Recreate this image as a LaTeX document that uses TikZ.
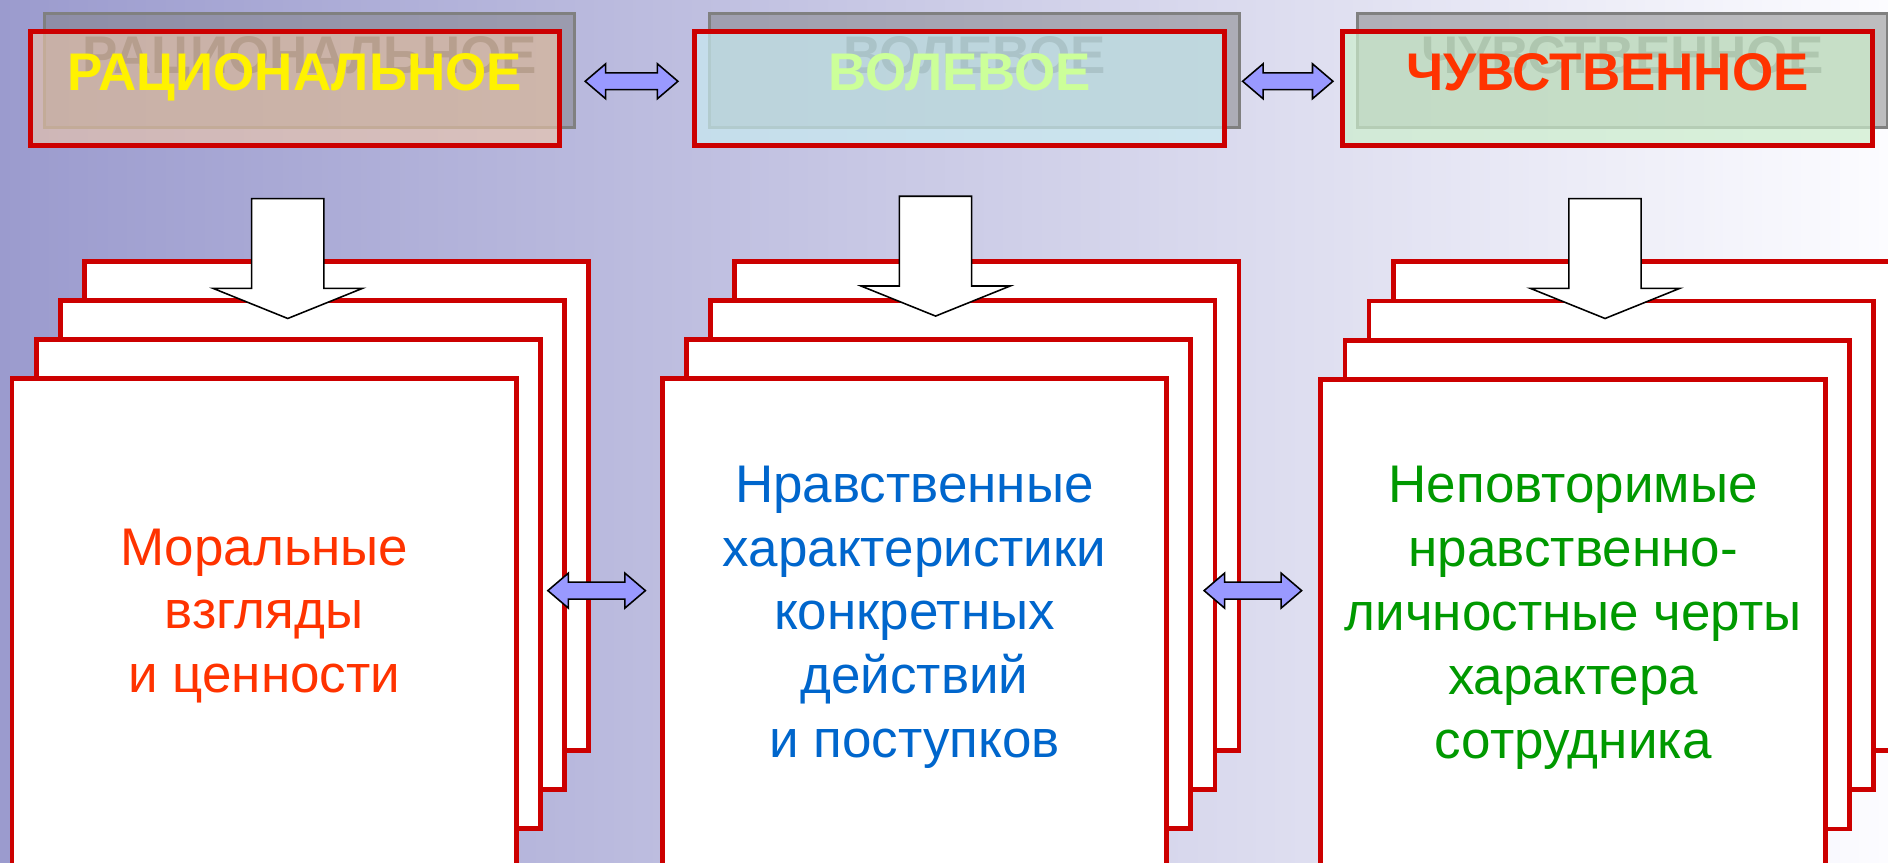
\documentclass[tikz,border=0pt]{standalone}
\usepackage{fontspec}
\setmainfont{Liberation Sans}
\usetikzlibrary{calc}

\definecolor{bgL}{RGB}{155,155,206}
\definecolor{bgR}{RGB}{252,252,255}
\definecolor{frameRed}{RGB}{204,0,0}
\definecolor{shadowGray}{RGB}{128,128,128}
\definecolor{fillPeach}{RGB}{240,200,168}
\definecolor{fillBlue}{RGB}{200,235,240}
\definecolor{fillGreen}{RGB}{204,238,204}
\definecolor{txtOrange}{RGB}{255,51,0}
\definecolor{txtLime}{RGB}{204,255,153}
\definecolor{txtBlue}{RGB}{0,102,204}
\definecolor{txtGreen}{RGB}{0,153,0}
\definecolor{arrowFill}{RGB}{153,153,255}

\tikzset{
  headbox/.style={rectangle, draw=frameRed, line width=4pt, minimum width=440pt,
    minimum height=95pt, inner sep=0pt, anchor=north west},
  headshadow/.style={rectangle, draw=shadowGray, line width=2.5pt, fill=shadowGray,
    fill opacity=0.5, minimum width=440pt, minimum height=95pt, inner sep=0pt,
    anchor=north west},
  headtext/.style={font=\fontsize{44}{53}\selectfont\bfseries, anchor=base, inner sep=0pt},
  shadowtext/.style={headtext, text=black!70, text opacity=0.7},
  card/.style={rectangle, draw=frameRed, fill=white, line width=4pt, minimum width=419pt,
    minimum height=406pt, inner sep=0pt, anchor=north west},
  cardtext/.style={font=\fontsize{44}{53}\selectfont, align=center, inner sep=0pt},
  dblarrow/.style={draw=black, fill=arrowFill, line width=1.3pt, line join=miter},
  downarrow/.style={draw=black, fill=white, line width=1.3pt, line join=miter},
}

% two-headed block arrow between a left tip and a right tip
\newcommand{\twowayarrow}[2]{%
  \draw[dblarrow] (#1) -- ($(#1)+(17,-14.5)$) -- ($(#1)+(17,-7)$) -- ($(#2)+(-17,-7)$)
    -- ($(#2)+(-17,-14.5)$) -- (#2) -- ($(#2)+(-17,14.5)$) -- ($(#2)+(-17,7)$)
    -- ($(#1)+(17,7)$) -- ($(#1)+(17,14.5)$) -- cycle;}
% downward block arrow from the top of its shaft to its tip
\newcommand{\downblock}[2]{%
  \draw[downarrow] ($(#1)+(-30,0)$) -- ($(#2)+(-30,-25)$) -- ($(#2)+(-62,-25)$) -- (#2)
    -- ($(#2)+(62,-25)$) -- ($(#2)+(30,-25)$) -- ($(#1)+(30,0)$) -- cycle;}

\begin{document}
\begin{tikzpicture}[x=1pt, y=-1pt]
\useasboundingbox (0,0) rectangle (1568,716);
\clip (0,0) rectangle (1568,716);
\shade[left color=bgL, right color=bgR] (0,0) rectangle (1568,716);

% shadows of the three headings
\node[headshadow] (s1) at (36,10) {};
\node[headshadow] (s2) at (588,10) {};
\node[headshadow] (s3) at (1126,10) {};
\node[shadowtext] (st1) at ($(s1.center)+(0,2.5)$) {РАЦИОНАЛЬНОЕ};
\node[shadowtext] (st2) at ($(s2.center)+(0,2.5)$) {ВОЛЕВОЕ};
\node[shadowtext] (st3) at ($(s3.center)+(0,2.5)$) {ЧУВСТВЕННОЕ};

% headings
\node[headbox, fill=fillPeach, fill opacity=0.6] (r1) at (23,24) {};
\node[headbox, fill=fillBlue, fill opacity=0.7] (r2) at (575,24) {};
\node[headbox, fill=fillGreen, fill opacity=0.7] (r3) at (1113,24) {};
\node[headtext, text=yellow] (t1) at ($(r1.center)+(0,1.5)$) {РАЦИОНАЛЬНОЕ};
\node[headtext, text=txtLime] (t2) at ($(r2.center)+(0,1.5)$) {ВОЛЕВОЕ};
\node[headtext, text=txtOrange] (t3) at ($(r3.center)+(0,1.5)$) {ЧУВСТВЕННОЕ};

\coordinate (h1l) at ($(r1.east)+(19,-6)$);
\coordinate (h1r) at ($(r2.west)+(-12,-6)$);
\coordinate (h2l) at ($(r2.east)+(13,-6)$);
\coordinate (h2r) at ($(r3.west)+(-6,-6)$);
\twowayarrow{h1l}{h1r}
\twowayarrow{h2l}{h2r}

% stacked cards, back to front
\node[card] (c1a) at (68,215) {};
\node[card] (c1b) at (48,247.5) {};
\node[card] (c1c) at (28,280) {};
\node[card] (c1d) at (8,312.5) {};
\node[card] (c2a) at (608,215) {};
\node[card] (c2b) at (588,247.5) {};
\node[card] (c2c) at (568,280) {};
\node[card] (c2d) at (548,312.5) {};
\node[card] (c3a) at (1155,215.5) {};
\node[card] (c3b) at (1135,248) {};
\node[card] (c3c) at (1115,280.5) {};
\node[card] (c3d) at (1095,313) {};

\node[cardtext, text=txtOrange] (k1) at ($(c1d.center)+(0,-6)$)
  {Моральные\\взгляды\\и ценности};
\node[cardtext, text=txtBlue] (k2) at ($(c2d.center)+(0,-5)$)
  {Нравственные\\характеристики\\конкретных\\действий\\и поступков};
\node[cardtext, text=txtGreen] (k3) at ($(c3d.center)+(0,-5)$)
  {Неповторимые\\нравственно-\\личностные черты\\характера\\сотрудника};

% arrows from the headings down to the cards
\coordinate (d1t) at (239,165);   \coordinate (d1b) at (239,264.5);
\coordinate (d2t) at (777,163);   \coordinate (d2b) at (777,262.5);
\coordinate (d3t) at (1333,165);  \coordinate (d3b) at (1333,264.5);
\downblock{d1t}{d1b}
\downblock{d2t}{d2b}
\downblock{d3t}{d3b}

% links between the columns
\coordinate (m1l) at (455,490.5);  \coordinate (m1r) at (536,490.5);
\coordinate (m2l) at (1000,490.5); \coordinate (m2r) at (1081,490.5);
\twowayarrow{m1l}{m1r}
\twowayarrow{m2l}{m2r}
\end{tikzpicture}
\end{document}
